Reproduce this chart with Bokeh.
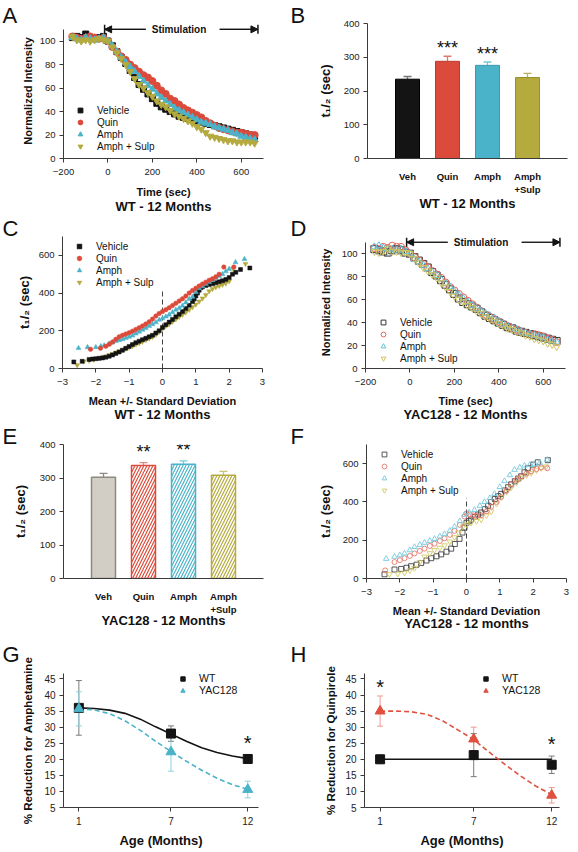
from bokeh.plotting import figure
from bokeh.layouts import column, row
from bokeh.models import (Range1d, FixedTicker, Label, Legend, LegendItem, Whisker, Title,
                          ColumnDataSource, Arrow, NormalHead, TeeHead, LinearAxis)
from bokeh.embed import file_html
from bokeh.resources import INLINE

# ------------------------------------------------------------------ data
treatments = ["Vehicle", "Quin", "Amph", "Amph + Sulp"]

time_sec = [-160, -140, -120, -100, -80, -60, -40, -20, 0, 20, 40, 60, 80, 100, 120, 140,
            160, 180, 200, 220, 240, 260, 280, 300, 320, 340, 360, 380, 400, 420, 440, 460,
            480, 500, 520, 540, 560, 580, 600, 620, 640, 660]
time_ticks = [-200, 0, 200, 400, 600]
intensity_ticks = [0, 20, 40, 60, 80, 100]

# Panel A: WT 12 months, normalized intensity
a_vehicle = [103, 104, 103, 106, 103, 102, 103, 104,
             100, 96, 91, 86, 81, 75, 69, 63, 59, 55, 51, 47, 44, 42, 40, 38, 36, 35, 34,
             33, 32, 31, 30, 29, 28, 27, 26, 25, 24, 23, 22, 21, 20, 19]
a_quin = [104, 103, 102, 103, 104, 103, 102, 103,
          100, 95, 91, 87, 84, 80, 77, 74, 71, 69, 66, 62, 58, 55, 51, 49, 46, 43, 41,
          39, 37, 35, 32, 30, 28, 26, 25, 24, 23, 22, 22, 21, 20, 20]
a_amph = [103, 102, 101, 103, 102, 101, 102, 103,
          100, 96, 91, 86, 82, 78, 74, 70, 66, 62, 59, 55, 52, 49, 46, 43, 41, 39, 37,
          35, 33, 31, 30, 29, 27, 26, 25, 24, 22, 21, 19, 18, 17, 16]
a_sulp = [104, 101, 100, 101, 100, 101, 102, 101,
          100, 95, 90, 85, 80, 74, 68, 63, 60, 56, 53, 49, 46, 44, 41, 38, 36, 34, 32,
          30, 27, 25, 22, 19, 18, 17, 16, 15, 15, 14, 14, 14, 14, 13]

# Panel D: YAC128 12 months
d_vehicle = [104, 103, 102, 101, 103, 104, 103, 101,
             100, 97, 94, 91, 88, 84, 81, 77, 73, 69, 65, 61, 58, 56, 54, 52, 49, 46, 44,
             42, 40, 38, 36, 35, 33, 32, 31, 30, 29, 28, 27, 26, 25, 24]
d_quin = [105, 104, 106, 105, 107, 106, 106, 103,
          100, 97, 94, 91, 88, 85, 82, 79, 75, 71, 68, 65, 62, 59, 56, 53, 50, 47, 45,
          43, 41, 39, 37, 35, 34, 32, 31, 30, 30, 29, 28, 26, 25, 23]
d_amph = [106, 107, 105, 104, 104, 103, 104, 102,
          100, 95, 93, 90, 87, 84, 81, 78, 74, 71, 67, 64, 61, 58, 55, 52, 50, 48, 46,
          44, 41, 39, 37, 35, 34, 32, 31, 30, 29, 28, 27, 25, 24, 23]
d_sulp = [102, 101, 102, 104, 102, 102, 101, 101,
          100, 96, 92, 88, 85, 82, 79, 75, 71, 67, 63, 60, 58, 55, 53, 50, 48, 45, 43,
          41, 39, 37, 35, 34, 32, 31, 29, 28, 26, 25, 24, 22, 21, 19]

# Panels B / E: t1/2 bars
bar_categories = ["Veh", "Quin", "Amph", "Amph\n+Sulp"]
t_half_ticks = [0, 100, 200, 300, 400]
b_t_half = [235, 288, 276, 240]
b_sem = [8, 15, 10, 12]
b_stars = ["", "***", "***", ""]
e_t_half = [302, 337, 341, 308]
e_sem = [12, 9, 10, 12]
e_stars = ["", "**", "**", ""]

# Panels C / F: t1/2 versus standard deviations from the mean
sd_ticks = [-3, -2, -1, 0, 1, 2, 3]
t_ticks = [0, 200, 400, 600]
c_veh_x = [-2.66, -2.41, -2.2, -2.1, -2.0, -1.9, -1.8, -1.7, -1.6, -1.5, -1.4, -1.3, -1.2,
           -1.1, -1.0, -0.9, -0.8, -0.7, -0.6, -0.5, -0.4, -0.3, -0.2, -0.1, 0.0, 0.1, 0.2,
           0.3, 0.4, 0.5, 0.6, 0.7, 0.8, 0.9, 0.95, 1.0, 1.05, 1.1, 1.15, 1.2, 1.3, 1.4,
           1.5, 1.6, 1.7, 1.8, 1.9, 2.0, 2.1, 2.2, 2.34, 2.62]
c_veh_y = [35, 38, 48, 50, 52, 54, 56, 60, 65, 72, 80, 88, 97, 107, 117, 127, 137, 145,
           153, 160, 168, 176, 188, 200, 218, 232, 246, 260, 274, 288, 302, 318, 335, 355,
           368, 385, 400, 415, 428, 433, 440, 445, 449, 455, 460, 465, 472, 482, 500, 510,
           525, 533]
c_quin_x = [-2.16, -1.86, -1.7, -1.6, -1.5, -1.4, -1.3, -1.2, -1.1, -1.0, -0.9, -0.8, -0.7,
            -0.6, -0.5, -0.4, -0.3, -0.2, -0.1, 0.0, 0.1, 0.2, 0.3, 0.4, 0.5, 0.6, 0.7, 0.8,
            0.9, 1.0, 1.1, 1.2, 1.3, 1.4, 1.5, 1.6, 1.7, 1.84, 2.14]
c_quin_y = [102, 108, 118, 128, 140, 155, 168, 176, 183, 190, 198, 207, 216, 226, 236, 248,
            262, 278, 292, 302, 312, 322, 334, 346, 358, 370, 384, 400, 414, 426, 438, 448,
            458, 468, 476, 486, 500, 538, 538]
c_amph_x = [-2.52, -2.25, -2.0, -1.85, -1.75, -1.6, -1.5, -1.4, -1.3, -1.2, -1.1, -1.0,
            -0.9, -0.8, -0.7, -0.6, -0.5, -0.4, -0.3, -0.2, -0.1, 0.0, 0.1, 0.2, 0.3, 0.4,
            0.5, 0.6, 0.7, 0.8, 0.9, 1.0, 1.1, 1.2, 1.3, 1.4, 1.5, 1.6, 1.7, 1.8, 1.9, 2.0,
            2.19, 2.46]
c_amph_y = [108, 113, 113, 118, 122, 132, 138, 145, 150, 155, 162, 168, 175, 185, 195, 205,
            215, 225, 235, 245, 258, 266, 275, 285, 298, 311, 320, 333, 350, 368, 380, 405,
            425, 436, 448, 458, 468, 480, 490, 500, 515, 528, 563, 580]
c_sulp_x = [-2.56, -2.36, -2.2, -2.06, -1.9, -1.76, -1.6, -1.5, -1.4, -1.3, -1.2, -1.1,
            -1.0, -0.9, -0.8, -0.7, -0.6, -0.5, -0.4, -0.3, -0.2, -0.1, 0.0, 0.1, 0.2, 0.3,
            0.4, 0.5, 0.6, 0.7, 0.8, 0.9, 1.0, 1.1, 1.2, 1.3, 1.4, 1.5, 1.6, 1.7, 1.8, 1.9,
            2.0, 2.12, 2.49]
c_sulp_y = [18, 38, 42, 47, 55, 63, 71, 77, 85, 91, 98, 106, 113, 119, 128, 135, 143, 152,
            160, 168, 180, 195, 213, 226, 236, 249, 262, 274, 286, 298, 312, 326, 340, 356,
            372, 390, 410, 422, 431, 438, 445, 452, 463, 530, 555]

f_veh_x = [-2.46, -2.16, -1.96, -1.8, -1.66, -1.5, -1.36, -1.2, -1.06, -0.9, -0.76, -0.6,
           -0.46, -0.35, -0.21, -0.12, -0.06, 0.0, 0.07, 0.14, 0.25, 0.35, 0.44, 0.55, 0.65,
           0.74, 0.85, 0.95, 1.04, 1.15, 1.25, 1.34, 1.45, 1.55, 1.64, 1.74, 1.84, 2.0,
           2.14, 2.44]
f_veh_y = [22, 47, 50, 56, 64, 72, 81, 94, 106, 116, 126, 140, 156, 180, 207, 240, 266, 291,
           300, 308, 322, 334, 345, 362, 380, 400, 415, 430, 442, 460, 477, 492, 508, 522,
           534, 555, 576, 595, 607, 618]
f_quin_x = [-2.44, -2.16, -2.0, -1.86, -1.7, -1.56, -1.4, -1.26, -1.1, -0.96, -0.8, -0.66,
            -0.5, -0.36, -0.2, -0.06, 0.0, 0.1, 0.2, 0.3, 0.44, 0.6, 0.74, 0.9, 1.04, 1.2,
            1.34, 1.5, 1.64, 1.8, 1.94, 2.1, 2.24, 2.42]
f_quin_y = [42, 86, 96, 106, 118, 131, 144, 156, 170, 182, 196, 210, 228, 249, 280, 324,
            340, 335, 330, 327, 330, 350, 375, 400, 425, 460, 492, 515, 534, 548, 560, 572,
            580, 576]
f_amph_x = [-2.41, -2.16, -2.0, -1.86, -1.7, -1.56, -1.4, -1.26, -1.1, -0.96, -0.8, -0.66,
            -0.5, -0.36, -0.2, -0.06, 0.08, 0.24, 0.4, 0.54, 0.7, 0.84, 1.0, 1.14, 1.3,
            1.44, 1.6, 1.74, 1.9, 2.04, 2.2, 2.42]
f_amph_y = [103, 114, 122, 131, 148, 165, 176, 187, 197, 207, 220, 232, 250, 271, 300, 333,
            345, 358, 380, 400, 420, 442, 478, 509, 540, 568, 580, 590, 594, 597, 605, 620]
f_sulp_x = [-2.31, -2.06, -1.86, -1.7, -1.56, -1.4, -1.26, -1.1, -0.96, -0.8, -0.66, -0.5,
            -0.36, -0.24, -0.11, 0.0, 0.14, 0.3, 0.44, 0.6, 0.74, 0.9, 1.04, 1.2, 1.34, 1.5,
            1.64, 1.8, 1.94, 2.1, 2.24, 2.39]
f_sulp_y = [22, 25, 30, 42, 55, 85, 114, 132, 148, 160, 173, 193, 215, 240, 271, 282, 291,
            300, 308, 330, 350, 390, 425, 452, 476, 502, 526, 540, 551, 565, 576, 585]
mean_line = {"x": 0, "top": 420}

# Panels G / H: % reduction by age
ages = [1, 7, 12]
reduction_ticks = [5, 10, 15, 20, 25, 30, 35, 40, 45]
fit_months = [1, 2, 3, 4, 5, 6, 7, 8, 9, 10, 11, 12]
g_wt = [36.0, 28.0, 20.1]
g_wt_err = [8.5, 2.4, 1.3]
g_yac = [35.7, 22.3, 10.6]
g_yac_err = [5.3, 6.0, 2.6]
g_wt_fit = [36.0, 35.8, 35.3, 34.3, 32.5, 30.1, 27.9, 25.6, 23.6, 22.1, 21.0, 20.2]
g_yac_fit = [35.7, 35.4, 34.2, 32.0, 29.0, 25.6, 22.4, 19.4, 16.6, 14.1, 12.1, 10.7]
g_star_x = [12]
g_star_y = [26.4]
h_wt = [20.0, 21.3, 18.3]
h_wt_err = [1.3, 6.7, 2.7]
h_yac = [35.0, 26.3, 8.8]
h_yac_err = [4.7, 3.7, 2.4]
h_wt_fit_x = [1, 12]
h_wt_fit = [20.0, 20.0]
h_yac_fit = [35.0, 35.0, 34.8, 34.0, 32.0, 29.1, 26.1, 22.2, 18.4, 14.8, 11.6, 9.0]
h_star_x = [1, 12]
h_star_y = [43.6, 26.0]

# ------------------------------------------------------------------ style
FONT = "Liberation Sans"
AXIS = "#3a3a3a"
BLACK = "#141414"
RED = "#dc4a3b"
CYAN = "#4bb3c9"
OLIVE = "#b4aa3e"
W_LEFT = 289
W_RIGHT = 288


def base_fig(g, xr, yr, tick_size="9.5px"):
    p = figure(width=g["w"], height=g["h"], x_range=Range1d(*xr), y_range=Range1d(*yr),
               min_border_left=g["l"], min_border_right=g["r"],
               min_border_top=g["t"], min_border_bottom=g["b"],
               output_backend="svg", toolbar_location=None, tools="")
    p.outline_line_color = None
    p.xgrid.visible = False
    p.ygrid.visible = False
    for ax in (p.xaxis[0], p.yaxis[0]):
        ax.axis_line_color = AXIS
        ax.major_tick_line_color = AXIS
        ax.major_tick_in = 0
        ax.major_tick_out = 4
        ax.minor_tick_line_color = None
        ax.major_label_text_font = FONT
        ax.major_label_text_font_size = tick_size
        ax.major_label_text_color = "#222222"
        ax.major_label_standoff = 4
        ax.axis_label_text_font = FONT
        ax.axis_label_text_font_style = "bold"
        ax.axis_label_text_color = "#111111"
    p.xaxis[0].major_label_standoff = 6
    return p


def add_letter(p, g, letter, X, spacer=False):
    if spacer:
        p.add_layout(Title(text=" ", text_font=FONT, text_font_size="8px", standoff=0),
                     "above")
    p.add_layout(Title(text=letter, align="left", offset=X - g["l"], text_font=FONT,
                       text_font_size="22px", text_font_style="normal",
                       text_color="#111111", standoff=-8), "above")


def add_bottom_title(p, text, gap):
    # an extra, tick-less axis below the x axis carries the panel title
    ax = LinearAxis(axis_label=text, ticker=FixedTicker(ticks=[]))
    ax.axis_line_color = None
    ax.major_tick_line_color = None
    ax.minor_tick_line_color = None
    ax.major_tick_out = 0
    ax.major_tick_in = 0
    ax.major_label_standoff = 0
    ax.major_label_text_font_size = "0px"
    ax.axis_label_standoff = gap
    ax.axis_label_text_font = FONT
    ax.axis_label_text_font_size = "13px"
    ax.axis_label_text_font_style = "bold"
    ax.axis_label_text_color = "#111111"
    p.add_layout(ax, "below")


def data_text(p, text, x, y, size, bold=False, yoff=0):
    p.add_layout(Label(x=x, y=y, text=text, text_font=FONT, text_font_size=size,
                       text_font_style="bold" if bold else "normal", text_align="center",
                       text_baseline="middle", text_color="#111111", y_offset=yoff))


def legend(p, items, loc, glyph=12, standoff=11, size="10px"):
    leg = Legend(items=[LegendItem(label=l, renderers=[r]) for l, r in items],
                 location=loc, orientation="vertical", background_fill_alpha=0,
                 border_line_color=None, padding=0, margin=0, spacing=0,
                 glyph_width=glyph, glyph_height=glyph, label_height=glyph,
                 label_standoff=standoff, label_text_font=FONT, label_text_font_size=size,
                 label_text_color="#111111")
    p.add_layout(leg)


def frame_h(g):
    return g["h"] - max(g["t"], 21) - g["b"]


# ------------------------------------------------------------------ time series (A, D)
STIM = (-15, 675)
STIM_GAP = (170, 503)
STIM_Y = 110


def time_panel(g, series, hollow, title, letter, letter_X, leg_loc, ylab_off):
    p = base_fig(g, (-200, 700), (0, 115))
    p.yaxis.bounds = (0, 110)
    p.xaxis.ticker = FixedTicker(ticks=time_ticks)
    p.yaxis.ticker = FixedTicker(ticks=intensity_ticks)
    p.yaxis.axis_label = "Normalized Intensity"
    p.yaxis.axis_label_text_font_size = "11px"
    p.yaxis.axis_label_standoff = ylab_off
    p.xaxis.axis_label = "Time (sec)"
    p.xaxis.axis_label_text_font_size = "11px"
    p.xaxis.axis_label_standoff = g["als"]
    rends = []
    for name, vals, marker, color, size in series:
        if hollow:
            r = p.scatter(time_sec, vals, marker=marker, size=size, fill_color=None,
                          line_color=color, line_width=1)
        else:
            r = p.scatter(time_sec, vals, marker=marker, size=size, fill_color=color,
                          line_color=color, line_width=1)
        rends.append((name, r))
    legend(p, rends, leg_loc)
    for xs, xe in ((STIM_GAP[0], STIM[0]), (STIM_GAP[1], STIM[1])):
        p.add_layout(Arrow(x_start=xs, y_start=STIM_Y, x_end=xe, y_end=STIM_Y,
                           line_color=BLACK, line_width=1.2,
                           end=NormalHead(size=7, fill_color=BLACK, line_color=BLACK)))
        p.add_layout(Arrow(x_start=xs, y_start=STIM_Y, x_end=xe, y_end=STIM_Y,
                           line_color=BLACK, line_width=1.2,
                           end=TeeHead(size=9, line_color=BLACK, line_width=1.5)))
    data_text(p, "Stimulation", (STIM[0] + STIM[1]) / 2 - 10, STIM_Y, "10px", bold=True)
    add_bottom_title(p, title, g["tgap"])
    add_letter(p, g, letter, letter_X)
    return p


# ------------------------------------------------------------------ bar panels (B, E)
def bar_panel(g, vals, sems, stars, hatched, title, letter, letter_X, ylab_off, star_off):
    p = base_fig(g, (0, 5), (0, 400))
    p.yaxis.ticker = FixedTicker(ticks=t_half_ticks)
    p.yaxis.axis_label = "t\u2081/\u2082 (sec)"
    p.yaxis.axis_label_text_font_size = "13px"
    p.yaxis.axis_label_standoff = ylab_off
    pos = list(range(1, len(bar_categories) + 1))
    p.xaxis.ticker = FixedTicker(ticks=pos)
    p.xaxis.major_label_overrides = {k: c for k, c in zip(pos, bar_categories)}
    p.xaxis.major_tick_line_color = None
    p.xaxis.major_tick_out = 0
    p.xaxis.major_label_standoff = g["cat"]
    p.xaxis.major_label_text_font_style = "bold"
    p.xaxis.major_label_text_color = "#111111"
    if hatched:
        fills = ["#d2cec5", "white", "white", "white"]
        lines = ["#8c8980", RED, CYAN, OLIVE]
        errc = ["#8c8980", "#e58a80", "#7fc9d9", "#cbc377"]
    else:
        fills = [BLACK, RED, CYAN, OLIVE]
        lines = ["#000000", "#b83a2e", "#3a9ab0", "#988f2c"]
        errc = ["#777777", "#e07a6e", "#78c4d6", "#b9b060"]
    for i, xpos in enumerate(pos):
        src = ColumnDataSource(dict(x=[xpos], top=[vals[i]], up=[vals[i] + sems[i]]))
        p.add_layout(Whisker(source=src, base="x", lower="top", upper="up",
                             dimension="height", line_color=errc[i], line_width=1.3,
                             lower_head=None,
                             upper_head=TeeHead(size=8, line_color=errc[i], line_width=1.3)))
        kw = {}
        if hatched and i > 0:
            kw = dict(hatch_pattern="/", hatch_color=lines[i], hatch_scale=6, hatch_weight=1.2)
        p.vbar(x=[xpos], top=[vals[i]], width=0.6, bottom=0, fill_color=fills[i],
               line_color=lines[i], line_width=1.5 if hatched else 1, **kw)
        if stars[i]:
            data_text(p, stars[i], xpos, vals[i] + sems[i], "18px", yoff=star_off)
    add_bottom_title(p, title, g["tgap"])
    add_letter(p, g, letter, letter_X)
    return p


# ------------------------------------------------------------------ distribution panels (C, F)
def dist_panel(g, series, hollow, title, letter, letter_X, leg_loc, ylab_off):
    p = base_fig(g, (-3, 3), (0, 700))
    p.xaxis.ticker = FixedTicker(ticks=sd_ticks)
    p.yaxis.ticker = FixedTicker(ticks=t_ticks)
    p.yaxis.axis_label = "t\u2081/\u2082 (sec)"
    p.yaxis.axis_label_text_font_size = "13px"
    p.yaxis.axis_label_standoff = ylab_off
    p.xaxis.axis_label = "Mean +/- Standard Deviation"
    p.xaxis.axis_label_text_font_size = "11px"
    p.xaxis.axis_label_standoff = g["als"]
    p.segment(x0=[mean_line["x"]], y0=[0], x1=[mean_line["x"]], y1=[mean_line["top"]],
              line_color="#444444", line_dash="5 3", line_width=1)
    rends = {}
    for name, xs, ys, marker, color, size in series:
        if hollow:
            r = p.scatter(xs, ys, marker=marker, size=size, fill_color=None,
                          line_color=color, line_width=0.9)
        else:
            r = p.scatter(xs, ys, marker=marker, size=size, fill_color=color,
                          line_color=color, line_width=0.5)
        rends[name] = r
    legend(p, [(n, rends[n]) for n in treatments], leg_loc)
    add_bottom_title(p, title, g["tgap"])
    add_letter(p, g, letter, letter_X)
    return p


# ------------------------------------------------------------------ age panels (G, H)
def age_panel(g, xmax, ylabel, wt, wt_err, yac, yac_err, wt_fx, wt_fit, yac_fit, ycolor,
              yerrc, star_x, star_y, letter, letter_X, leg_loc, ylab_off):
    p = base_fig(g, (0, xmax), (5, 46.7), tick_size="10px")
    p.xaxis.ticker = FixedTicker(ticks=ages)
    p.yaxis.ticker = FixedTicker(ticks=reduction_ticks)
    p.yaxis.axis_label = ylabel
    p.yaxis.axis_label_text_font_size = "11.5px"
    p.yaxis.axis_label_standoff = ylab_off
    p.xaxis.axis_label = "Age (Months)"
    p.xaxis.axis_label_text_font_size = "13px"
    p.xaxis.major_label_standoff = 5
    p.xaxis.axis_label_standoff = 5
    p.line(wt_fx, wt_fit, line_color=BLACK, line_width=1.6)
    p.line(fit_months, yac_fit, line_color=ycolor, line_width=1.6, line_dash="5 3")
    for vals, errs, col in ((wt, wt_err, "#7a7a7a"), (yac, yac_err, yerrc)):
        src = ColumnDataSource(dict(x=ages, lo=[v - e for v, e in zip(vals, errs)],
                                    hi=[v + e for v, e in zip(vals, errs)]))
        p.add_layout(Whisker(source=src, base="x", lower="lo", upper="hi",
                             dimension="height", line_color=col, line_width=1,
                             lower_head=TeeHead(size=6, line_color=col, line_width=1),
                             upper_head=TeeHead(size=6, line_color=col, line_width=1)))
    r_wt = p.scatter(ages, wt, marker="square", size=9, fill_color=BLACK, line_color=BLACK)
    r_yac = p.scatter(ages, yac, marker="triangle", size=10, fill_color=ycolor,
                      line_color=ycolor)
    legend(p, [("WT", r_wt), ("YAC128", r_yac)], leg_loc, glyph=11, size="10.5px")
    for sx, sy in zip(star_x, star_y):
        data_text(p, "*", sx, sy, "20px", yoff=-4)
    add_letter(p, g, letter, letter_X, spacer=True)
    return p


# ------------------------------------------------------------------ geometry (pixels)
gA = dict(w=W_LEFT, h=216, l=63, r=26, t=23, b=53, als=8, tgap=-2)
gB = dict(w=W_RIGHT, h=216, l=78, r=10, t=23, b=53, cat=12, tgap=-2)
gC = dict(w=W_LEFT, h=208, l=62, r=27, t=20, b=56, als=7, tgap=-3)
gD = dict(w=W_RIGHT, h=208, l=76, r=12, t=20, b=56, als=7, tgap=-3)
gE = dict(w=W_LEFT, h=216, l=63, r=26, t=20, b=62, cat=12, tgap=-5)
gF = dict(w=W_RIGHT, h=216, l=77, r=11, t=20, b=61, als=7, tgap=-4)
gG = dict(w=W_LEFT, h=210, l=63, r=31, t=33, b=38)
gH = dict(w=W_RIGHT, h=210, l=75, r=18, t=33, b=38)

pA = time_panel(gA, [
    ("Vehicle", a_vehicle, "square", BLACK, 6),
    ("Quin", a_quin, "circle", RED, 7),
    ("Amph", a_amph, "triangle", CYAN, 7),
    ("Amph + Sulp", a_sulp, "inverted_triangle", OLIVE, 7)],
    hollow=False, title="WT - 12 Months", letter="A", letter_X=2,
    leg_loc=(11, 6), ylab_off=3)

pB = bar_panel(gB, b_t_half, b_sem, b_stars, False, "WT - 12 Months", "B", 1,
               ylab_off=8, star_off=8)

pC = dist_panel(gC, [
    ("Amph + Sulp", c_sulp_x, c_sulp_y, "inverted_triangle", OLIVE, 5),
    ("Vehicle", c_veh_x, c_veh_y, "square", BLACK, 4),
    ("Amph", c_amph_x, c_amph_y, "triangle", CYAN, 5),
    ("Quin", c_quin_x, c_quin_y, "circle", RED, 4.5)],
    hollow=False, title="WT - 12 Months", letter="C", letter_X=2,
    leg_loc=(11, frame_h(gC) - 51), ylab_off=4)

pD = time_panel(gD, [
    ("Vehicle", d_vehicle, "square", "#333333", 7),
    ("Quin", d_quin, "circle", "#e3665a", 7),
    ("Amph", d_amph, "triangle", "#62c0d8", 7),
    ("Amph + Sulp", d_sulp, "inverted_triangle", "#cdc55c", 7)],
    hollow=True, title="YAC128 - 12 Months", letter="D", letter_X=1,
    leg_loc=(12, 4), ylab_off=7)

pE = bar_panel(gE, e_t_half, e_sem, e_stars, True, "YAC128 - 12 Months", "E", 2,
               ylab_off=9, star_off=11)

pF = dist_panel(gF, [
    ("Vehicle", f_veh_x, f_veh_y, "square", "#444444", 5),
    ("Amph + Sulp", f_sulp_x, f_sulp_y, "inverted_triangle", "#d2cb66", 5.5),
    ("Quin", f_quin_x, f_quin_y, "circle", "#e8776b", 5),
    ("Amph", f_amph_x, f_amph_y, "triangle", "#74c8de", 5.5)],
    hollow=True, title="YAC128 - 12 months", letter="F", letter_X=1,
    leg_loc=(12, frame_h(gF) - 52), ylab_off=7)

pG = age_panel(gG, 12.7, "% Reduction for Amphetamine", g_wt, g_wt_err, g_yac, g_yac_err,
               fit_months, g_wt_fit, g_yac_fit, CYAN, "#8fd0de", g_star_x, g_star_y,
               "G", 2, (114, frame_h(gG) - 28), ylab_off=7)

pH = age_panel(gH, 12.5, "% Reduction for Quinpirole", h_wt, h_wt_err, h_yac, h_yac_err,
               h_wt_fit_x, h_wt_fit, h_yac_fit, "#e0503f", "#ee9a90", h_star_x, h_star_y,
               "H", 1, (116, frame_h(gH) - 28), ylab_off=5)

layout = column(row(pA, pB), row(pC, pD), row(pE, pF), row(pG, pH))

with open("out.html", "w") as fh:
    fh.write(file_html(layout, INLINE))
